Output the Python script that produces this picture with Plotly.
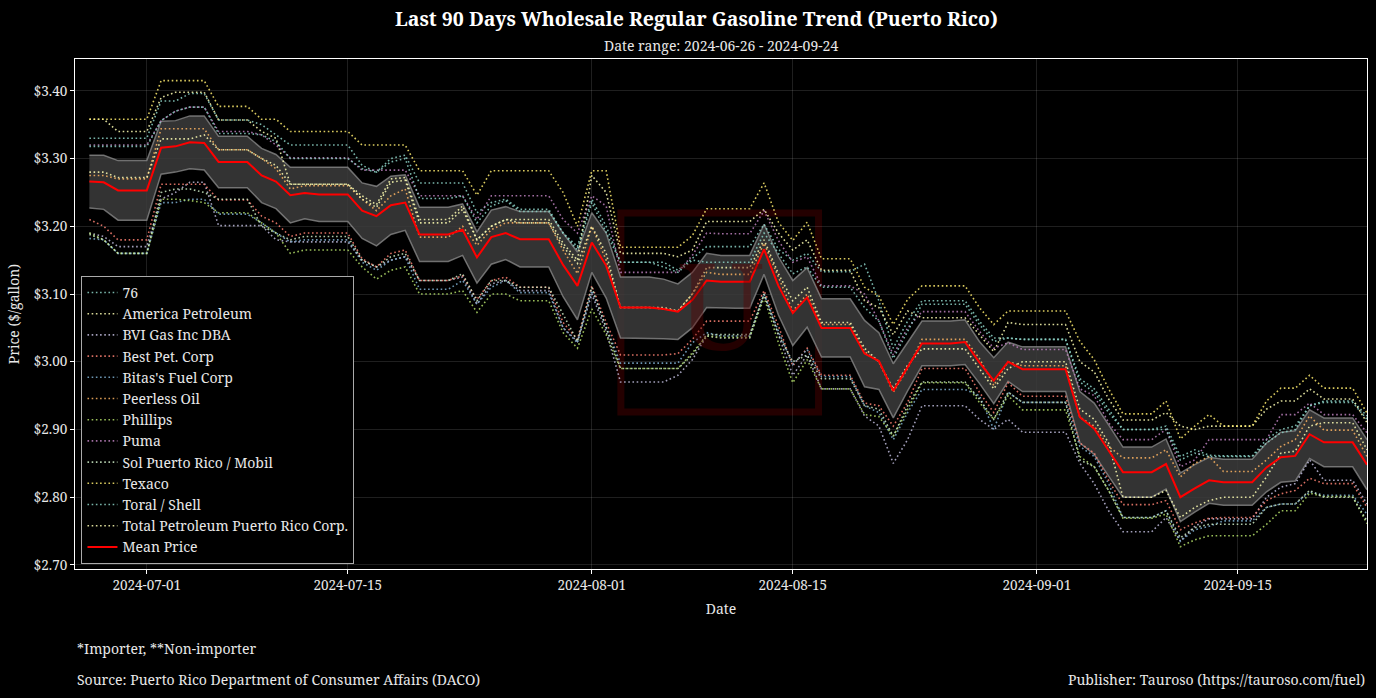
import pandas as pd
import plotly.graph_objects as go

# ---------- data ----------
dates = pd.date_range("2024-06-27", periods=90, freq="D")

companies = [
    "76", "America Petroleum", "BVI Gas Inc DBA", "Best Pet. Corp", "Bitas's Fuel Corp",
    "Peerless Oil", "Phillips", "Puma", "Sol Puerto Rico / Mobil", "Texaco",
    "Toral / Shell", "Total Petroleum Puerto Rico Corp.",
]
colors = [
    "#8dd3c7", "#ffffb3", "#bebada", "#fb8072", "#80b1d3", "#fdb462",
    "#b3de69", "#bc80bd", "#ccebc5", "#ffed6f", "#8dd3c7", "#ffffb3",
]

p_76 = [
    3.330, 3.330, 3.330, 3.330, 3.330, 3.385, 3.385, 3.396, 3.396, 3.357,
    3.357, 3.357, 3.350, 3.335, 3.320, 3.320, 3.320, 3.320, 3.320, 3.290,
    3.280, 3.300, 3.305, 3.264, 3.264, 3.264, 3.264, 3.220, 3.235, 3.240,
    3.225, 3.225, 3.225, 3.190, 3.170, 3.240, 3.200, 3.147, 3.147, 3.147,
    3.147, 3.135, 3.152, 3.170, 3.170, 3.170, 3.170, 3.203, 3.166, 3.150,
    3.160, 3.133, 3.133, 3.133, 3.144, 3.090, 3.020, 3.060, 3.090, 3.090,
    3.090, 3.090, 3.060, 3.035, 3.035, 3.033, 3.033, 3.033, 3.033, 2.975,
    2.960, 2.930, 2.900, 2.900, 2.900, 2.905, 2.860, 2.870, 2.862, 2.861,
    2.861, 2.861, 2.885, 2.900, 2.905, 2.935, 2.942, 2.942, 2.942, 2.920,
]
p_america = [
    3.358, 3.358, 3.340, 3.340, 3.340, 3.390, 3.398, 3.398, 3.398, 3.357,
    3.357, 3.357, 3.340, 3.330, 3.262, 3.262, 3.262, 3.262, 3.262, 3.245,
    3.232, 3.270, 3.272, 3.210, 3.210, 3.210, 3.230, 3.180, 3.200, 3.210,
    3.210, 3.210, 3.210, 3.175, 3.150, 3.275, 3.250, 3.160, 3.160, 3.160,
    3.160, 3.155, 3.165, 3.207, 3.207, 3.207, 3.207, 3.225, 3.190, 3.165,
    3.180, 3.135, 3.135, 3.135, 3.090, 3.080, 3.040, 3.075, 3.065, 3.065,
    3.065, 3.065, 3.040, 3.015, 3.058, 3.055, 3.055, 3.055, 3.055, 3.000,
    2.985, 2.945, 2.914, 2.914, 2.914, 2.925, 2.905, 2.900, 2.905, 2.905,
    2.905, 2.905, 2.930, 2.942, 2.942, 2.960, 2.945, 2.945, 2.945, 2.910,
]
p_bvi = [
    3.190, 3.185, 3.170, 3.170, 3.170, 3.240, 3.250, 3.265, 3.265, 3.201,
    3.201, 3.201, 3.201, 3.180, 3.177, 3.177, 3.177, 3.177, 3.177, 3.150,
    3.140, 3.150, 3.155, 3.120, 3.120, 3.120, 3.125, 3.085, 3.115, 3.120,
    3.105, 3.105, 3.105, 3.050, 3.030, 3.100, 3.045, 2.970, 2.970, 2.970,
    2.970, 2.980, 3.003, 3.038, 3.035, 3.035, 3.035, 3.100, 3.040, 2.980,
    3.010, 2.960, 2.960, 2.960, 2.920, 2.905, 2.850, 2.885, 2.935, 2.935,
    2.935, 2.935, 2.915, 2.900, 2.915, 2.896, 2.896, 2.896, 2.896, 2.850,
    2.820, 2.780, 2.749, 2.749, 2.749, 2.770, 2.735, 2.757, 2.768, 2.768,
    2.768, 2.768, 2.800, 2.815, 2.820, 2.855, 2.825, 2.825, 2.825, 2.790,
]
p_best = [
    3.210, 3.200, 3.180, 3.180, 3.180, 3.262, 3.262, 3.262, 3.262, 3.239,
    3.239, 3.239, 3.215, 3.205, 3.185, 3.190, 3.190, 3.190, 3.190, 3.152,
    3.140, 3.160, 3.165, 3.120, 3.120, 3.120, 3.127, 3.092, 3.120, 3.125,
    3.110, 3.110, 3.110, 3.058, 3.033, 3.112, 3.058, 3.010, 3.010, 3.010,
    3.010, 3.012, 3.033, 3.060, 3.060, 3.060, 3.060, 3.105, 3.053, 2.994,
    3.020, 2.980, 2.980, 2.980, 2.939, 2.935, 2.905, 2.940, 2.990, 2.990,
    2.990, 2.990, 2.955, 2.925, 2.969, 2.949, 2.949, 2.949, 2.949, 2.880,
    2.865, 2.825, 2.789, 2.789, 2.789, 2.795, 2.752, 2.762, 2.769, 2.770,
    2.770, 2.770, 2.795, 2.805, 2.810, 2.828, 2.820, 2.820, 2.820, 2.785,
]
p_bitas = [
    3.182, 3.180, 3.160, 3.160, 3.160, 3.235, 3.235, 3.240, 3.240, 3.218,
    3.218, 3.218, 3.205, 3.190, 3.177, 3.180, 3.180, 3.180, 3.180, 3.147,
    3.135, 3.150, 3.155, 3.107, 3.107, 3.107, 3.120, 3.085, 3.110, 3.120,
    3.102, 3.102, 3.102, 3.050, 3.028, 3.105, 3.050, 2.998, 2.998, 2.998,
    2.998, 2.998, 3.028, 3.043, 3.038, 3.038, 3.038, 3.100, 3.045, 2.996,
    3.018, 2.978, 2.978, 2.978, 2.935, 2.925, 2.885, 2.925, 2.959, 2.959,
    2.959, 2.959, 2.950, 2.900, 2.955, 2.940, 2.940, 2.940, 2.940, 2.875,
    2.860, 2.820, 2.770, 2.770, 2.770, 2.780, 2.735, 2.752, 2.757, 2.765,
    2.765, 2.765, 2.785, 2.790, 2.790, 2.808, 2.803, 2.803, 2.803, 2.775,
]
p_peerless = [
    3.275, 3.275, 3.270, 3.270, 3.270, 3.344, 3.344, 3.344, 3.344, 3.313,
    3.313, 3.313, 3.300, 3.285, 3.255, 3.260, 3.260, 3.260, 3.260, 3.240,
    3.223, 3.245, 3.255, 3.184, 3.184, 3.184, 3.200, 3.172, 3.195, 3.205,
    3.205, 3.205, 3.205, 3.165, 3.130, 3.200, 3.150, 3.080, 3.080, 3.080,
    3.078, 3.075, 3.100, 3.132, 3.129, 3.129, 3.129, 3.175, 3.125, 3.075,
    3.100, 3.055, 3.055, 3.055, 3.015, 3.000, 2.955, 2.990, 3.033, 3.033,
    3.033, 3.033, 3.005, 2.965, 3.000, 2.994, 2.994, 2.994, 2.994, 2.918,
    2.905, 2.875, 2.858, 2.858, 2.858, 2.870, 2.830, 2.850, 2.860, 2.838,
    2.838, 2.838, 2.855, 2.875, 2.885, 2.920, 2.899, 2.899, 2.899, 2.860,
]
p_phillips = [
    3.190, 3.180, 3.160, 3.160, 3.160, 3.240, 3.240, 3.238, 3.235, 3.220,
    3.220, 3.220, 3.205, 3.190, 3.160, 3.165, 3.165, 3.165, 3.165, 3.140,
    3.122, 3.135, 3.140, 3.100, 3.100, 3.100, 3.105, 3.073, 3.100, 3.100,
    3.090, 3.090, 3.090, 3.043, 3.020, 3.078, 3.040, 2.990, 2.990, 2.990,
    2.990, 2.990, 3.013, 3.038, 3.036, 3.036, 3.036, 3.095, 3.028, 2.969,
    3.003, 2.960, 2.960, 2.960, 2.922, 2.919, 2.890, 2.930, 2.969, 2.969,
    2.969, 2.969, 2.940, 2.915, 2.950, 2.929, 2.929, 2.929, 2.929, 2.860,
    2.845, 2.810, 2.769, 2.769, 2.769, 2.775, 2.727, 2.737, 2.743, 2.743,
    2.743, 2.743, 2.760, 2.780, 2.780, 2.806, 2.801, 2.801, 2.801, 2.761,
]
p_puma = [
    3.320, 3.320, 3.320, 3.320, 3.320, 3.356, 3.370, 3.376, 3.376, 3.340,
    3.340, 3.340, 3.335, 3.320, 3.301, 3.301, 3.301, 3.301, 3.301, 3.283,
    3.283, 3.283, 3.283, 3.245, 3.245, 3.245, 3.245, 3.210, 3.245, 3.245,
    3.245, 3.245, 3.245, 3.210, 3.190, 3.245, 3.230, 3.132, 3.132, 3.132,
    3.132, 3.132, 3.157, 3.190, 3.189, 3.189, 3.189, 3.223, 3.179, 3.147,
    3.155, 3.112, 3.112, 3.112, 3.100, 3.060, 3.010, 3.050, 3.074, 3.074,
    3.074, 3.074, 3.045, 3.020, 3.028, 3.018, 3.018, 3.018, 3.018, 2.960,
    2.950, 2.910, 2.885, 2.885, 2.885, 2.900, 2.845, 2.855, 2.885, 2.885,
    2.885, 2.885, 2.885, 2.922, 2.922, 2.939, 2.922, 2.922, 2.922, 2.895,
]
p_sol = [
    3.188, 3.180, 3.160, 3.160, 3.160, 3.250, 3.255, 3.255, 3.250, 3.240,
    3.240, 3.240, 3.200, 3.190, 3.180, 3.185, 3.185, 3.185, 3.185, 3.150,
    3.140, 3.155, 3.160, 3.120, 3.120, 3.120, 3.130, 3.090, 3.120, 3.120,
    3.110, 3.110, 3.110, 3.070, 3.030, 3.110, 3.050, 2.990, 2.990, 2.990,
    2.990, 2.990, 3.010, 3.040, 3.040, 3.040, 3.040, 3.100, 3.040, 3.000,
    3.010, 2.975, 2.975, 2.975, 2.935, 2.930, 2.890, 2.935, 2.970, 2.970,
    2.970, 2.970, 2.945, 2.915, 2.955, 2.940, 2.940, 2.940, 2.940, 2.855,
    2.845, 2.810, 2.770, 2.770, 2.770, 2.780, 2.740, 2.755, 2.760, 2.760,
    2.760, 2.760, 2.785, 2.790, 2.790, 2.810, 2.800, 2.800, 2.800, 2.765,
]
p_texaco = [
    3.358, 3.358, 3.358, 3.358, 3.358, 3.415, 3.415, 3.415, 3.415, 3.377,
    3.377, 3.377, 3.358, 3.358, 3.340, 3.340, 3.340, 3.340, 3.340, 3.320,
    3.320, 3.320, 3.320, 3.282, 3.282, 3.282, 3.282, 3.246, 3.282, 3.282,
    3.282, 3.282, 3.282, 3.250, 3.200, 3.282, 3.282, 3.169, 3.169, 3.169,
    3.169, 3.169, 3.186, 3.226, 3.226, 3.226, 3.226, 3.264, 3.206, 3.179,
    3.206, 3.152, 3.152, 3.152, 3.110, 3.097, 3.055, 3.092, 3.112, 3.112,
    3.112, 3.112, 3.080, 3.055, 3.075, 3.075, 3.075, 3.075, 3.075, 3.030,
    3.003, 2.960, 2.923, 2.923, 2.923, 2.942, 2.886, 2.905, 2.922, 2.905,
    2.905, 2.905, 2.942, 2.961, 2.961, 2.980, 2.961, 2.961, 2.961, 2.924,
]
p_toral = [
    3.318, 3.318, 3.318, 3.318, 3.318, 3.356, 3.370, 3.376, 3.376, 3.337,
    3.337, 3.337, 3.335, 3.325, 3.300, 3.300, 3.300, 3.300, 3.300, 3.285,
    3.280, 3.295, 3.300, 3.241, 3.241, 3.241, 3.245, 3.205, 3.230, 3.238,
    3.222, 3.222, 3.222, 3.190, 3.165, 3.235, 3.190, 3.147, 3.147, 3.147,
    3.140, 3.132, 3.150, 3.147, 3.147, 3.147, 3.147, 3.190, 3.160, 3.130,
    3.140, 3.110, 3.110, 3.110, 3.080, 3.060, 3.005, 3.045, 3.085, 3.085,
    3.085, 3.085, 3.055, 3.030, 3.035, 3.033, 3.033, 3.033, 3.033, 2.970,
    2.955, 2.925, 2.900, 2.900, 2.900, 2.900, 2.855, 2.865, 2.860, 2.860,
    2.860, 2.860, 2.880, 2.895, 2.900, 2.935, 2.940, 2.940, 2.940, 2.915,
]
p_total = [
    3.280, 3.280, 3.272, 3.272, 3.272, 3.329, 3.329, 3.329, 3.335, 3.313,
    3.313, 3.313, 3.300, 3.290, 3.262, 3.262, 3.262, 3.262, 3.262, 3.240,
    3.228, 3.265, 3.268, 3.205, 3.205, 3.205, 3.225, 3.180, 3.200, 3.210,
    3.205, 3.205, 3.205, 3.170, 3.145, 3.200, 3.160, 3.080, 3.080, 3.080,
    3.080, 3.075, 3.100, 3.139, 3.139, 3.139, 3.139, 3.180, 3.130, 3.090,
    3.110, 3.058, 3.058, 3.058, 3.020, 3.000, 2.960, 2.995, 3.019, 3.019,
    3.019, 3.019, 2.990, 2.960, 2.990, 3.000, 3.000, 3.000, 3.000, 2.930,
    2.915, 2.880, 2.800, 2.800, 2.800, 2.810, 2.770, 2.785, 2.795, 2.800,
    2.800, 2.800, 2.830, 2.865, 2.868, 2.905, 2.910, 2.910, 2.910, 2.870,
]

mean_price = [
    3.266, 3.265, 3.253, 3.253, 3.253, 3.316, 3.318, 3.324, 3.323, 3.295,
    3.295, 3.295, 3.275, 3.266, 3.246, 3.249, 3.247, 3.247, 3.247, 3.223,
    3.215, 3.231, 3.235, 3.188, 3.188, 3.188, 3.195, 3.154, 3.184, 3.190,
    3.181, 3.181, 3.181, 3.143, 3.112, 3.176, 3.142, 3.080, 3.080, 3.080,
    3.078, 3.074, 3.091, 3.120, 3.118, 3.118, 3.118, 3.166, 3.112, 3.072,
    3.095, 3.050, 3.050, 3.050, 3.012, 3.001, 2.957, 2.993, 3.027, 3.027,
    3.027, 3.029, 2.999, 2.972, 3.000, 2.989, 2.989, 2.989, 2.989, 2.918,
    2.901, 2.869, 2.837, 2.837, 2.837, 2.849, 2.800, 2.813, 2.825, 2.822,
    2.822, 2.822, 2.844, 2.859, 2.861, 2.893, 2.881, 2.881, 2.881, 2.848,
]
# half width of the 95% band around the mean
ci_half = [
    0.039, 0.040, 0.044, 0.044, 0.044, 0.039, 0.038, 0.039, 0.040, 0.038,
    0.038, 0.038, 0.040, 0.040, 0.041, 0.038, 0.040, 0.040, 0.040, 0.041,
    0.044, 0.043, 0.041, 0.040, 0.040, 0.040, 0.038, 0.038, 0.040, 0.039,
    0.041, 0.041, 0.041, 0.047, 0.050, 0.044, 0.048, 0.045, 0.045, 0.045,
    0.044, 0.041, 0.041, 0.040, 0.039, 0.039, 0.039, 0.037, 0.043, 0.048,
    0.044, 0.043, 0.043, 0.043, 0.049, 0.042, 0.040, 0.036, 0.033, 0.033,
    0.033, 0.033, 0.031, 0.034, 0.029, 0.033, 0.033, 0.033, 0.033, 0.038,
    0.038, 0.038, 0.037, 0.037, 0.037, 0.037, 0.036, 0.035, 0.034, 0.034,
    0.034, 0.034, 0.036, 0.037, 0.037, 0.036, 0.036, 0.036, 0.036, 0.037,
]

prices = [p_76, p_america, p_bvi, p_best, p_bitas, p_peerless, p_phillips,
          p_puma, p_sol, p_texaco, p_toral, p_total]

FONT = "Noto Serif, DejaVu Serif, serif"
FG = "#e8e8e8"

fig = go.Figure()

# confidence band
upper = [m + h for m, h in zip(mean_price, ci_half)]
lower = [m - h for m, h in zip(mean_price, ci_half)]
fig.add_trace(go.Scatter(x=dates, y=lower, mode="lines", showlegend=False,
                         line=dict(color="rgba(150,150,150,0.7)", width=1.5),
                         hoverinfo="skip"))
fig.add_trace(go.Scatter(x=dates, y=upper, mode="lines", showlegend=False,
                         fill="tonexty", fillcolor="rgba(60,60,60,0.85)",
                         line=dict(color="rgba(150,150,150,0.7)", width=1.5),
                         hoverinfo="skip"))

for name, col, ys in zip(companies, colors, prices):
    fig.add_trace(go.Scatter(x=dates, y=ys, name=name, mode="lines", opacity=0.85,
                             line=dict(color=col, width=1.6, dash="1.6px,2.6px")))

fig.add_trace(go.Scatter(x=dates, y=mean_price, name="Mean Price", mode="lines",
                         line=dict(color="#ff0000", width=2)))

# faint watermark logo
fig.add_shape(type="rect", xref="paper", yref="paper", x0=0.4225, x1=0.5755, y0=0.308, y1=0.698,
              line=dict(color="rgba(90,0,0,0.4)", width=7), layer="below")
fig.add_annotation(text="U", xref="paper", yref="paper", x=0.5, y=0.52, showarrow=False,
                   font=dict(family=FONT, size=120, color="rgba(90,0,0,0.4)"))

fig.add_annotation(text="<b>Last 90 Days Wholesale Regular Gasoline Trend (Puerto Rico)</b>",
                   xref="paper", yref="paper", x=0.4807, y=1.08, yanchor="middle", showarrow=False,
                   font=dict(family=FONT, size=19.5, color="white"))
fig.add_annotation(text="Date range: 2024-06-26 - 2024-09-24",
                   xref="paper", yref="paper", x=0.5, y=1.027, yanchor="middle", showarrow=False,
                   font=dict(family=FONT, size=14, color=FG))
fig.add_annotation(text="*Importer, **Non-importer", xref="paper", yref="paper",
                   x=0, y=-0.155, xanchor="left", yanchor="middle", showarrow=False,
                   font=dict(family=FONT, size=14, color=FG))
fig.add_annotation(text="Source: Puerto Rico Department of Consumer Affairs (DACO)",
                   xref="paper", yref="paper", x=0, y=-0.216, xanchor="left", yanchor="middle",
                   showarrow=False, font=dict(family=FONT, size=14, color=FG))
fig.add_annotation(text="Publisher: Tauroso (https://tauroso.com/fuel)",
                   xref="paper", yref="paper", x=1, y=-0.216, xanchor="right", yanchor="middle",
                   showarrow=False, font=dict(family=FONT, size=14, color=FG))

fig.update_layout(
    width=1376, height=698,
    paper_bgcolor="black", plot_bgcolor="black",
    margin=dict(l=75, r=9, t=59, b=129),
    font=dict(family=FONT, size=13.5, color=FG),
    legend=dict(x=0.005, y=0.01, xanchor="left", yanchor="bottom", traceorder="normal",
                bgcolor="black", bordercolor="#aaaaaa", borderwidth=1,
                font=dict(family=FONT, size=14, color=FG), tracegroupgap=0),
)
fig.update_xaxes(
    type="date", range=["2024-06-26", "2024-09-24"],
    tickvals=["2024-07-01", "2024-07-15", "2024-08-01", "2024-08-15", "2024-09-01", "2024-09-15"],
    tickformat="%Y-%m-%d", ticks="outside", ticklen=4, tickcolor="white",
    tickfont=dict(family=FONT, size=13.5, color=FG),
    showgrid=True, gridcolor="rgba(255,255,255,0.12)", gridwidth=1,
    showline=True, linecolor="white", linewidth=1, mirror=True, zeroline=False,
    title=dict(text="Date", standoff=10, font=dict(family=FONT, size=14, color=FG)),
)
fig.update_yaxes(
    range=[2.694, 3.447], dtick=0.1, tick0=2.7, tickformat="$.2f",
    ticks="outside", ticklen=4, tickcolor="white",
    tickfont=dict(family=FONT, size=13.5, color=FG),
    showgrid=True, gridcolor="rgba(255,255,255,0.12)", gridwidth=1,
    showline=True, linecolor="white", linewidth=1, mirror=True, zeroline=False,
    title=dict(text="Price ($/gallon)", standoff=10, font=dict(family=FONT, size=14, color=FG)),
)

fig.write_html("out.html", config={"displayModeBar": False},
               post_script="document.body.style.margin='0';document.body.style.background='black';")
